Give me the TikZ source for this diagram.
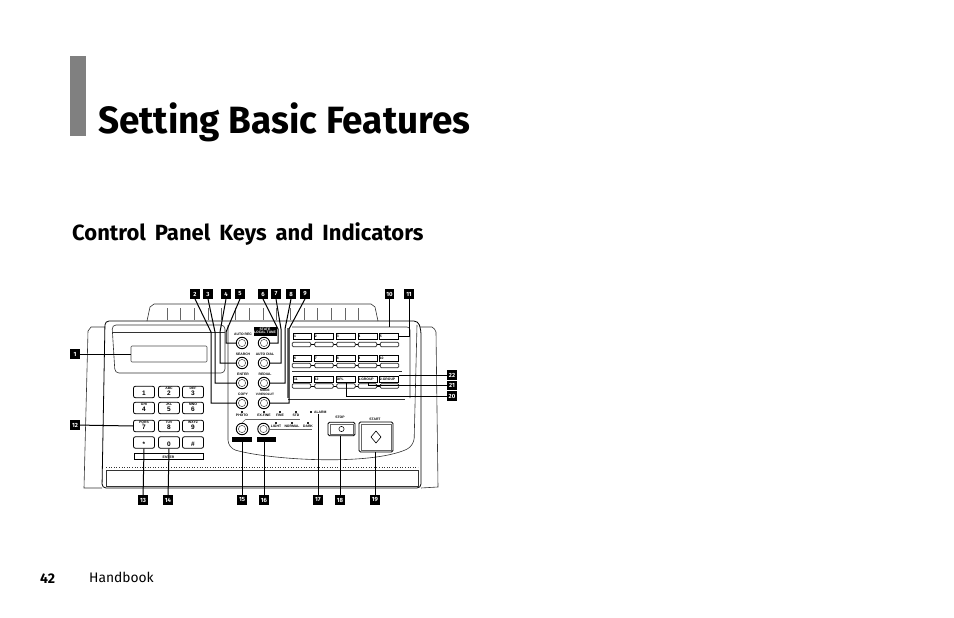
\documentclass[tikz,border=0pt]{standalone}
\usepackage{fontspec}
\setmainfont{Fira Sans}
\newfontfamily\tinyfont{Liberation Sans}
\tikzset{
  x=1pt,y=-1pt,
  tagbox/.style={fill=black,text=white,inner sep=0pt,minimum width=9.5pt,minimum height=9.5pt,font=\fontsize{6}{6.5}\selectfont\bfseries},
  lead/.style={draw=black,line width=1pt},
  body/.style={draw=black!80,line width=0.6pt},
  thinb/.style={draw=black!60,line width=0.45pt},
  keybox/.style={draw=black,line width=0.8pt,rounded corners=2pt,fill=white,inner sep=0pt,minimum width=21pt,minimum height=11.5pt},
  smalltxt/.style={font=\tinyfont\bfseries\fontsize{3.4}{3.6}\selectfont,inner sep=0pt,align=center},
  cell/.style={draw=black,line width=0.8pt,inner sep=0pt,minimum height=6pt,font=\tinyfont\bfseries\fontsize{3.4}{3.6}\selectfont,text width=18pt,align=left},
  softkey/.style={draw=black!85,line width=0.7pt,rounded corners=1.2pt,inner sep=0pt,minimum height=4.6pt,minimum width=18.5pt,fill=white},
  led/.style={fill=black!85,inner sep=0pt,minimum width=2.6pt,minimum height=2.4pt}
}
\begin{document}
\begin{tikzpicture}
\useasboundingbox (0,0) rectangle (954,618);
% heading
\fill[black!50] (70,56) rectangle (86,136);
\node[anchor=base west,inner sep=0pt,font=\fontsize{38}{40}\selectfont\bfseries] (title) at (98,133) {\scalebox{0.971}[1]{Setting Basic Features}};
\node[anchor=base west,inner sep=0pt,font=\fontsize{22}{24}\selectfont\bfseries] (sub) at (72,240) {Control\hspace{3.7pt} Panel\hspace{3.7pt} Keys\hspace{3.7pt} and\hspace{3.7pt} Indicators};
\node[anchor=base west,inner sep=0pt,font=\fontsize{14}{15}\selectfont\bfseries] (pg) at (40,583) {42};
\node[anchor=base west,inner sep=0pt,font=\fontsize{13.8}{15}\selectfont] (hb) at (89,582) {Handbook};
% machine body
\draw[body] (147,321) -- (150,307) to[bend left=20] (154,304) -- (371,304) to[bend left=20] (375,307) -- (378,321);
\foreach \kk in {0,...,14} \draw[thinb,line width=0.7pt] ({167+13.7*\kk},308) -- ({167+13.7*\kk},320);
\draw[body] (105,327) -- (91,327) to[bend right=20] (88,331) -- (84,488) -- (102,488);
\draw[body] (420,327) -- (432,327) to[bend left=20] (436,332) -- (438,487) -- (421,488);
\draw[draw=black,line width=0.8pt,rounded corners=4pt] (102,488) -- (105,321) -- (418,321) -- (421,330) -- (421,488) -- cycle;
% display recess
\draw[body,rounded corners=4pt] (112,325) -- (225,325) -- (225,373) -- (115,373) -- cycle;
\draw[body] (113,332) -- (225,332);
\node[draw=black!70,line width=0.6pt,rounded corners=1pt,minimum width=76pt,minimum height=16pt,inner sep=0pt] (lcd) at (169,354) {};
% panel outline
\draw[body,rounded corners=8pt] (228,325) -- (228,448) .. controls (270,460) and (370,466) .. (414,446) -- (417,325);
\draw[draw=black!55,line width=1.8pt] (288,328) -- (288,398);
\draw[body] (288,399) -- (405,399);
\draw[body,rounded corners=3pt] (292,327) -- (410,327) -- (410,398);
\draw[body] (292,371) -- (402,371);
% keypad
\foreach \nm/\x/\y/\sm/\bg in {
 k1/144/392/{}/1, k2/169/392/ABC/2, k3/193/392/DEF/3,
 k4/144/408/GHI/4, k5/169/408/JKL/5, k6/193/408/MNO/6,
 k7/144/426/PQRS/7, k8/169/426/TUV/8, k9/193/426/WXYZ/9,
 kst/144/442.5/{}/*, kz/169/442.5/{}/0, kh/193/442.5/{}/\#}{
  \node[keybox] (\nm) at (\x,\y) {};
  \node[inner sep=0pt,font=\tinyfont\bfseries\fontsize{6.5}{7}\selectfont] at (\x,\y+1.5) {\bg};
  \node[smalltxt] at (\x,\y-3.2) {\sm};
}
\node[draw=black,line width=0.6pt,inner sep=0pt,minimum width=69pt,minimum height=6pt] (bar) at (168.5,456) {};
\node[smalltxt] at (168.5,457) {ENTER};
% slot
\draw[body,dotted] (106,467) -- (418,467);
\draw[body] (106,470) -- (418,470) -- (418,486) -- (106,486) -- cycle;
% dial buttons
\foreach \nm/\x/\y in {ba/242/343,bb/242/363,bc/242/383,bd/242/403,be/264/343,bf/264/363,bg/264/383,bh/264/403,bi/242/429,bj/263.5/429}{
  \node[circle,draw=black,line width=0.9pt,inner sep=0pt,minimum size=11.5pt] (\nm) at (\x,\y) {};
  \draw[black!70,line width=0.5pt] (\x,\y) circle (3.6);
}
\node[smalltxt] at (243,334.5) {AUTO REC};
\node[smalltxt] at (243,354.5) {SEARCH};
\node[smalltxt] at (243,374.5) {ENTER};
\node[smalltxt] at (243,394.5) {COPY};
\node[smalltxt] at (265,354.5) {AUTO DIAL};
\node[smalltxt] at (265,374.5) {REDIAL};
\node[smalltxt,font=\tinyfont\bfseries\fontsize{3.2}{3.6}\selectfont] at (265,392.5) {MODE\\V.RESOLUT};
\node[fill=black,text=white,smalltxt,minimum width=23pt,minimum height=9pt] (modebox) at (265,331) {STATE\\LOCAL TUNE};
\node[fill=black,inner sep=0pt,minimum width=20pt,minimum height=5pt] (barl) at (242,439.5) {};
\node[fill=black,inner sep=0pt,minimum width=19pt,minimum height=5pt] (barr) at (266,439.5) {};
% indicators
\foreach \x/\lbl in {242/PHOTO,264/EX.FINE,280/FINE,296/STD}{
  \node[led] at (\x,412) {}; \node[smalltxt] at (\x,415.5) {\lbl};
}
\draw[thinb] (246,419) -- (300,419);
\draw[thinb] (242,423) -- (246,419);
\foreach \x/\lbl in {276/LIGHT,292/NORMAL,308/DARK}{
  \node[led] at (\x,423) {}; \node[smalltxt] at (\x,426.5) {\lbl};
}
\draw[thinb] (270,429) -- (312,429);
\node[led] (ledal) at (311,412) {};
\node[smalltxt,anchor=west] (alarm) at (314,412) {ALARM};
% stop and start
\node[smalltxt] at (340,417.5) {STOP};
\node[draw=black,line width=0.8pt,rounded corners=1.5pt,inner sep=0pt,minimum width=27pt,minimum height=13.5pt] (stop) at (341.5,429) {};
\draw[thinb] (330,424) rectangle (353,434);
\draw[black,line width=0.5pt] (341.5,429) circle (2.6);
\node[smalltxt] at (375,419) {START};
\node[draw=black,line width=0.9pt,rounded corners=1.5pt,inner sep=0pt,minimum width=34pt,minimum height=30pt] (start) at (376,437) {};
\draw[thinb] (361,424) rectangle (391,450);
\draw[black,line width=0.6pt] (376,431) -- (381,437) -- (376,443) -- (371,437) -- cycle;
% one-touch rows
\foreach \rr/\yl/\yk/\ta/\tb/\tc/\td/\te in {1/336/344.5/1/2/3/4/5,2/358/365.5/6/7/8/9/10,3/379/386/11/12/DPL/1-GROUP/2-GROUP}{
  \node[cell] (a\rr) at (302.5,\yl) {\,\ta};
  \node[cell,text width=19.5pt] (b\rr) at (324,\yl) {\,\tb};
  \node[cell,text width=19.5pt] (c\rr) at (346,\yl) {\,\tc};
  \node[cell,text width=19.5pt] (d\rr) at (368,\yl) {\td};
  \node[cell,text width=18.5pt] (e\rr) at (389,\yl) {\te};
  \draw[thinb,draw=black,line width=0.6pt] (293,\yk) -- (398,\yk);
  \node[softkey] (sa\rr) at (301.5,\yk) {};
  \node[softkey] (sb\rr) at (324,\yk) {};
  \node[softkey] (sc\rr) at (346,\yk) {};
  \node[softkey] (sd\rr) at (367.5,\yk) {};
  \node[softkey] (se\rr) at (389.5,\yk) {};
}
% tags
\foreach \n/\x/\y in {1/75/354,12/75/425,2/195/294,3/208/294,4/226/294,5/240/294,6/263/294,7/276/294,8/291/294,9/305/294,10/389.5/294,11/409/294,13/143/500,14/168/500,15/242/500,16/264/500,17/318/500,18/340/500,19/375/500,22/452/375,21/452/385.5,20/452/396}{
  \node[tagbox] (n\n) at (\x,\y) {\n};
}
% leads
\draw[lead] (n1) -- (lcd.west);
\draw[lead] (n12) -- (k7.west);
\draw[lead] (n13) -- (kst.south);
\draw[lead] (n14) -- (kz.south);
\draw[lead] (n15) -- (barl.south);
\draw[lead] (n16) -- (barr.south -| n16);
\draw[lead] (n17) -- (318,414);
\draw[lead] (n18) -- (stop.south -| n18);
\draw[lead] (n19) -- (start.south -| n19);
\draw[lead] (n2.south) -- (211,332) -- (211,403) -- (bd.west);
\draw[lead] (n3.south) -- (215,332) -- (215,383) -- (bc.west);
\draw[lead] (n4.south) -- (220,332) -- (220,363) -- (bb.west);
\draw[lead] (n5.south) -- (226,332) -- (226,343) -- (ba.west);
\draw[lead] (n6.south) -- (278,329) -- (278,343) -- (be.east);
\draw[lead] (n7.south) -- (281,329) -- (281,363) -- (bf.east);
\draw[lead] (n8.south) -- (285,329) -- (285,383) -- (bg.east);
\draw[lead] (n9.south) -- (289,329) -- (289,403) -- (bh.east);
\draw[lead] (n10.south) -- (389.5,327);
\draw[lead] (n11.south) -- (409,336) -- (e1.east);
\draw[lead] (n22.west) -- (e3.east |- n22);
\draw[lead] (n21.west) -- (368,385.5) -- (d3.south);
\draw[lead] (n20.west) -- (346,396) -- (c3.south);
\end{tikzpicture}
\end{document}
